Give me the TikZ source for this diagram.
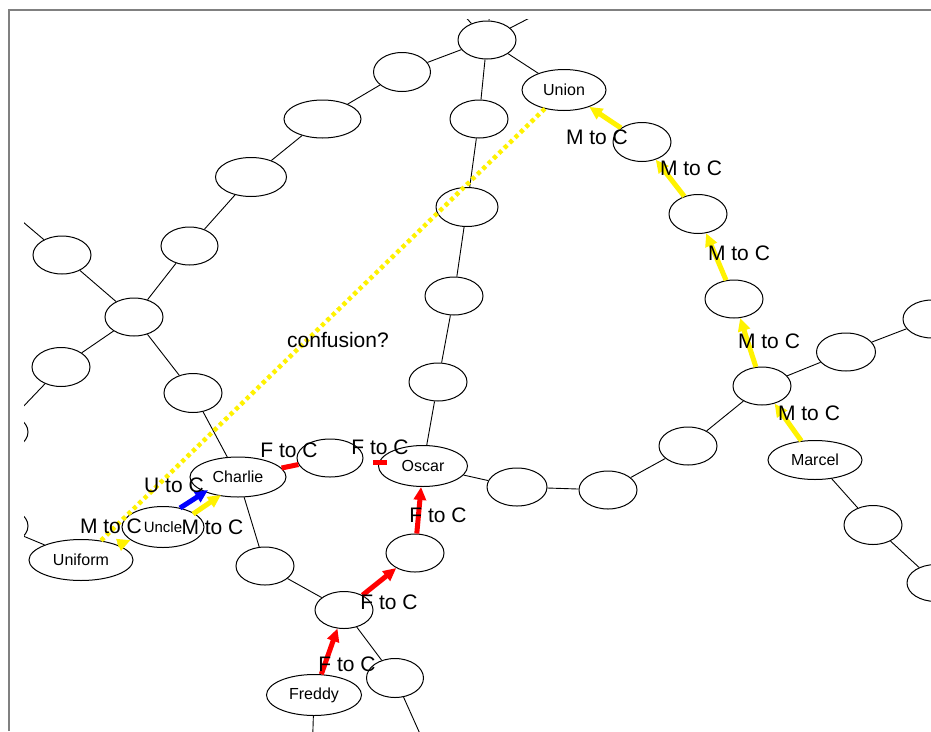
\documentclass[tikz,border=0pt]{standalone}
\usepackage{fontspec}
\setmainfont{Liberation Sans}
\usetikzlibrary{shapes.geometric,arrows.meta,calc}
\definecolor{framegray}{RGB}{128,128,128}
\begin{document}
\begin{tikzpicture}[x=1pt,y=-1pt,
  nd/.style={ellipse,draw=black,line width=1pt,inner sep=0pt,
    minimum width=58pt,minimum height=38pt,font=\fontsize{16}{18}\selectfont},
  edge/.style={draw=black,line width=0.9pt},
  lbl/.style={inner sep=0pt,font=\fontsize{21}{24}\selectfont},
  tipstyle/.style={-{Triangle[length=13pt,width=12pt]}},
  yarr/.style={draw=yellow,line width=5pt,tipstyle},
  rarr/.style={draw=red,line width=5pt,tipstyle},
  barr/.style={draw=blue,line width=5pt,tipstyle},
  rstub/.style={draw=red,line width=5pt},
  confline/.style={draw=yellow,line width=4.5pt,dash pattern=on 4pt off 3.5pt}
]
\useasboundingbox (0,0) rectangle (931,731);
\draw[framegray,line width=2pt] (9,731) -- (9,10) -- (931,10);
\begin{scope}
\clip (24,19) rectangle (931,731);
% nodes
\node[nd] (t) at (487,40) {};
\node[nd,minimum width=57pt,minimum height=39pt] (a1) at (402,72) {};
\node[nd,minimum width=77pt] (a2) at (322.5,119) {};
\node[nd,minimum width=71pt,minimum height=39pt] (a3) at (251,177) {};
\node[nd,minimum width=57pt] (a4) at (189.5,246) {};
\node[nd] (l1) at (62,255) {};
\node[nd] (hubl) at (134,317) {};
\node[nd,minimum height=39pt] (l2) at (61,367) {};
\node[nd,minimum height=39pt] (l3) at (193,393) {};
\node[nd] (lc1) at (-1,432) {};
\node[nd] (lc2) at (-1,526) {};
\node[nd,minimum width=104pt,minimum height=41pt] (uniform) at (81,560) {Uniform};
\node[nd,minimum width=82pt,minimum height=41pt,font=\fontsize{15}{17}\selectfont] (uncle) at (163,527) {Uncle};
\node[nd,minimum width=96pt,minimum height=40pt] (charlie) at (238,477) {Charlie};
\node[nd,minimum width=66pt] (n1) at (330,458) {};
\node[nd,minimum width=89pt,minimum height=41pt] (oscar) at (423,466) {Oscar};
\node[nd] (b1) at (479,119) {};
\node[nd,minimum width=62pt,minimum height=39pt] (b2) at (467,207) {};
\node[nd] (b3) at (454,296) {};
\node[nd] (b4) at (438,382) {};
\node[nd] (c1) at (265,566) {};
\node[nd,minimum height=37pt] (f1) at (344,610) {};
\node[nd] (f2) at (415,553) {};
\node[nd,minimum width=95pt,minimum height=41pt] (freddy) at (314,695) {Freddy};
\node[nd,minimum width=57pt,minimum height=39pt] (f3) at (395,678) {};
\node[nd,minimum width=60pt] (r1) at (517,487) {};
\node[nd] (r2) at (608,490) {};
\node[nd] (r3) at (688,446) {};
\node[nd] (hub) at (762,386) {};
\node[nd,minimum width=94pt,minimum height=39pt] (marcel) at (815,460) {Marcel};
\node[nd,minimum width=59pt] (e1) at (846,352) {};
\node[nd] (e2) at (932,319) {};
\node[nd,minimum height=39pt] (m1) at (873,525) {};
\node[nd,minimum height=37pt] (m2) at (936,583) {};
\node[nd] (u1) at (734,299) {};
\node[nd,minimum height=39pt] (u2) at (698,214) {};
\node[nd,minimum height=39pt] (u3) at (642,142) {};
\node[nd,minimum width=84pt,minimum height=41pt] (union) at (564,90) {Union};
% off-picture ends
\coordinate (o1) at (-10,194);
\coordinate (o3) at (425,745);
\coordinate (o4) at (312,760);
\coordinate (o5) at (455,6);
\coordinate (o6) at (491,0);
\coordinate (o7) at (545,10);
% black connectors
\draw[edge] (t) -- (a1);
\draw[edge] (a1) -- (a2);
\draw[edge] (a2) -- (a3);
\draw[edge] (a3) -- (a4);
\draw[edge] (a4) -- (hubl);
\draw[edge] (l1) -- (hubl);
\draw[edge] (l2) -- (hubl);
\draw[edge] (hubl) -- (l3);
\draw[edge] (l3) -- (charlie);
\draw[edge] (l2) -- (lc1);
\draw[edge] (l1) -- (o1);
\draw[edge] (uniform) -- (lc2);
\draw[edge] (charlie) -- (c1);
\draw[edge] (c1) -- (f1);
\draw[edge] (f1) -- (f3);
\draw[edge] (f3) -- (o3);
\draw[edge] (freddy) -- (o4);
\draw[edge] (t) -- (o5);
\draw[edge] (t) -- (o6);
\draw[edge] (t) -- (o7);
\draw[edge] (t) -- (b1);
\draw[edge] (t) -- (union);
\draw[edge] (b1) -- (b2);
\draw[edge] (b2) -- (b3);
\draw[edge] (b3) -- (b4);
\draw[edge] (b4) -- (oscar);
\draw[edge] (oscar) -- (r1);
\draw[edge] (r1) -- (r2);
\draw[edge] (r2) -- (r3);
\draw[edge] (r3) -- (hub);
\draw[edge] (hub) -- (e1);
\draw[edge] (e1) -- (e2);
\draw[edge] (marcel) -- (m1);
\draw[edge] (m1) -- (m2);
% confusion line
\draw[confline] (union) -- (uniform);
% yellow arrows
\draw[yarr] (marcel) -- (hub);
\draw[yarr] (hub) -- (u1);
\draw[yarr] (u1) -- (u2);
\draw[yarr] (u2) -- (u3);
\draw[yarr] (u3) -- (union);
\draw[yarr] (uniform) -- (uncle);
\coordinate (uy1) at (193,514);
\coordinate (uy2) at (221,495);
\draw[yarr] (uy1) -- (uy2);
\coordinate (ub1) at (180,508);
\coordinate (ub2) at (208,490);
\draw[barr] (ub1) -- (ub2);
% red arrows
\draw[rarr] (freddy) -- (f1);
\draw[rarr] (f1) -- (f2);
\draw[rarr] (f2) -- (oscar);
\draw[rstub] (charlie) -- (n1);
\coordinate (rs1) at (373,462);
\coordinate (rs2) at (387,462);
\draw[rstub] (rs1) -- (rs2);
% labels
\node[lbl] (lm1) at (597,137) {M to C};
\node[lbl] (lm2) at (691,168) {M to C};
\node[lbl] (lm3) at (739,253) {M to C};
\node[lbl] (lm4) at (769,341) {M to C};
\node[lbl] (lm5) at (809,413) {M to C};
\node[lbl] (lf1) at (289,450) {F to C};
\node[lbl] (lf2) at (380,447) {F to C};
\node[lbl] (lf3) at (438,515) {F to C};
\node[lbl] (lf4) at (389,602) {F to C};
\node[lbl] (lf5) at (347,664) {F to C};
\node[lbl] (lu) at (174,485) {U to C};
\node[lbl] (lm6) at (212.5,527) {M to C};
\node[lbl] (lm7) at (111,526) {M to C};
\node[lbl] (conf) at (338,340) {confusion?};
\end{scope}
\end{tikzpicture}
\end{document}
